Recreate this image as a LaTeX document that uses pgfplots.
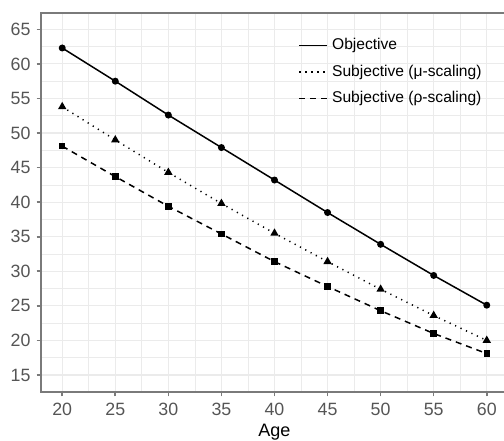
\documentclass[border=0pt]{standalone}
\usepackage{pgfplots}
\pgfplotsset{compat=1.18}
\usepackage{fontspec}
\setmainfont{Liberation Sans}
\definecolor{gridc}{HTML}{EBEBEB}
\definecolor{axc}{HTML}{7A7A7A}
\definecolor{tickc}{HTML}{555555}
\begin{document}
\begin{tikzpicture}
\begin{axis}[
  scale only axis,
  width=233.5pt, height=189.5pt,
  xmin=18, xmax=62, ymin=12.54, ymax=67.36,
  xtick={20,25,...,60}, ytick={15,20,...,65},
  minor x tick num=1, minor y tick num=1,
  grid=both,
  major grid style={gridc, line width=0.6pt},
  minor grid style={gridc, line width=0.35pt},
  axis line style={axc, line width=0.9pt},
  tick style={axc, line width=0.8pt},
  tick align=outside, tick pos=left,
  major tick length=2.2pt, minor tick length=0pt,
  ticklabel style={font=\fontsize{8.9}{10}\selectfont, text=tickc},
  yticklabel style={xshift=0.5pt},
  /pgf/number format/assume math mode=true,
  xlabel={Age},
  xlabel style={font=\fontsize{9}{10}\selectfont, black, yshift=3pt},
  legend style={draw=none, fill=none, at={(0.538,0.955)}, anchor=north west,
    font=\fontsize{7.8}{9}\selectfont, row sep=2.1pt,
    legend cell align=left},
  legend image code/.code={\path (0pt,0pt) -- (14pt,0pt);\draw[#1, mark=none] (0pt,0pt) -- (10.5pt,0pt);},
]
\addplot[black, line width=0.75pt, mark=*, mark size=1.35pt] coordinates {
 (20,62.3) (25,57.5) (30,52.6) (35,47.9) (40,43.2) (45,38.5) (50,33.9) (55,29.4) (60,25.1)};
\addlegendentry{Objective}
\addplot[black, line width=0.75pt, dash pattern=on 0.6pt off 2.4pt, mark=triangle*, mark size=1.7pt, mark options={solid}] coordinates {
 (20,53.8) (25,49.0) (30,44.3) (35,39.8) (40,35.5) (45,31.4) (50,27.4) (55,23.6) (60,20.0)};
\addlegendentry{Subjective (μ-scaling)}
\addplot[black, line width=0.75pt, dash pattern=on 3pt off 2.5pt, mark=square*, mark size=1.25pt, mark options={solid}] coordinates {
 (20,48.1) (25,43.7) (30,39.4) (35,35.4) (40,31.4) (45,27.8) (50,24.3) (55,21.0) (60,18.1)};
\addlegendentry{Subjective (ρ-scaling)}
\end{axis}
\pgfresetboundingbox
\path[use as bounding box] (-20.5pt,-24pt) rectangle (231.5pt,196pt);
\end{tikzpicture}
\end{document}
